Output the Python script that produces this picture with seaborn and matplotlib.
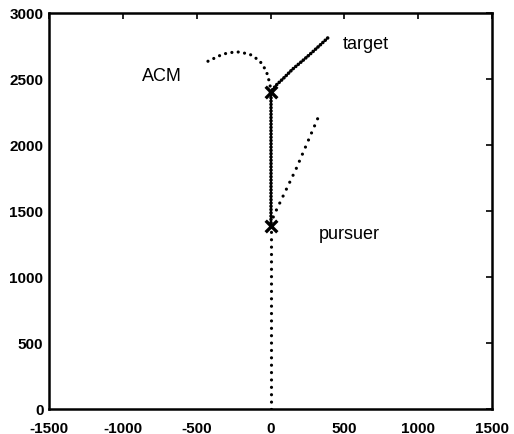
import matplotlib
matplotlib.use("Agg")
import matplotlib.pyplot as plt
import seaborn as sns
import pandas as pd

# Trajectory vertices (x, y in metres)
pursuer_x = [0, 0]
pursuer_y = [0, 1390]

pursuer_acm_x = [0, 0]
pursuer_acm_y = [1390, 2400]

pursuer_free_x = [0, 27, 173, 326]
pursuer_free_y = [1400, 1477, 1818, 2217]

target_x = [0, 40, 83, 150, 218, 280, 331, 399]
target_y = [2400, 2455, 2500, 2575, 2639, 2700, 2752, 2823]

acm_x = [5, -7, -29, -74, -142, -232, -322, -430]
acm_y = [2399, 2475, 2563, 2639, 2689, 2707, 2689, 2631]

start_x = [0, 0]
start_y = [1390, 2400]

x_ticks = [-1500, -1000, -500, 0, 500, 1000, 1500]
y_ticks = [0, 500, 1000, 1500, 2000, 2500, 3000]

labels = ["ACM", "target", "pursuer"]
label_x = [-737, 490, 330]
label_y = [2530, 2770, 1330]

sns.set_style("white")
plt.rcParams["font.family"] = ["Liberation Sans", "DejaVu Sans"]

fig = plt.figure(figsize=(5.14, 4.35), dpi=100)
ax = fig.add_axes([49 / 514, 25 / 435, 443 / 514, 396 / 435])


def dotted(xs, ys, gap, lw=2.3):
    df = pd.DataFrame({"x": xs, "y": ys})
    sns.lineplot(data=df, x="x", y="y", sort=False, estimator=None, ax=ax,
                 color="black", linewidth=lw, linestyle=(0, (0.01, gap)),
                 dash_capstyle="round")


dotted(pursuer_x, pursuer_y, 2.3)
dotted(pursuer_acm_x, pursuer_acm_y, 0.9, lw=2.6)
dotted(pursuer_free_x, pursuer_free_y, 2.4)
dotted(target_x, target_y, 0.9, lw=2.6)
dotted(acm_x, acm_y, 2.0)

sns.scatterplot(x=start_x, y=start_y, marker="x", s=70, color="black",
                linewidth=2.4, ax=ax, zorder=5)

for t, lx, ly in zip(labels, label_x, label_y):
    ax.text(lx, ly, t, fontsize=13, ha="left" if t != "ACM" else "center",
            va="center", color="black")

tick_font = ["Liberation Sans Narrow", "Liberation Sans", "DejaVu Sans"]
ax.set_xlim(-1500, 1500)
ax.set_ylim(0, 3000)
ax.set_xticks(x_ticks)
ax.set_yticks(y_ticks)
ax.set_xticklabels([str(v) for v in x_ticks], fontsize=11, fontweight="bold",
                   family=tick_font)
ax.set_yticklabels([str(v) for v in y_ticks], fontsize=11, fontweight="bold",
                   family=tick_font)
ax.set_xlabel("")
ax.set_ylabel("")
ax.tick_params(direction="in", length=4, width=1.2, top=True, right=True,
               colors="black")
ax.tick_params(axis="x", pad=9)
ax.tick_params(axis="y", pad=4)
for s in ax.spines.values():
    s.set_visible(True)
    s.set_color("black")
    s.set_linewidth(1.8)

fig.savefig("out.png", dpi=100, facecolor="white")
